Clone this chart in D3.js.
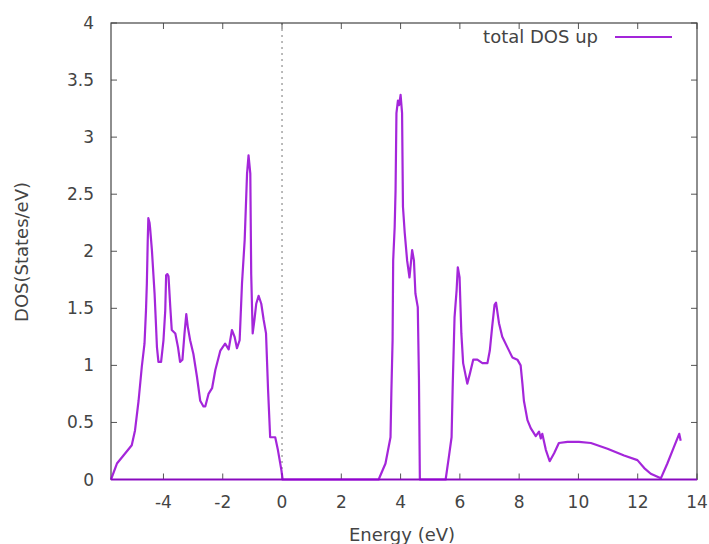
<!DOCTYPE html>
<html><head><meta charset="utf-8">
<script src="https://cdn.jsdelivr.net/npm/d3@7"></script>
<style>body{margin:0;background:#fff}svg{display:block}</style>
</head><body>
<svg id="c" width="709" height="544"></svg>
<script>
const energy = [-5.77,-5.57,-5.35,-5.07,-4.96,-4.84,-4.73,-4.64,-4.59,-4.56,-4.53,-4.51,-4.47,-4.45,-4.39,-4.30,-4.26,-4.22,-4.17,-4.08,-4.00,-3.94,-3.91,-3.87,-3.83,-3.77,-3.72,-3.60,-3.51,-3.44,-3.36,-3.29,-3.23,-3.18,-3.10,-2.99,-2.87,-2.76,-2.65,-2.59,-2.48,-2.36,-2.25,-2.08,-1.92,-1.80,-1.69,-1.60,-1.52,-1.43,-1.35,-1.26,-1.18,-1.13,-1.07,-1.04,-0.99,-0.93,-0.87,-0.79,-0.70,-0.62,-0.54,-0.47,-0.40,-0.23,-0.14,-0.02,0.02,3.26,3.49,3.66,3.69,3.73,3.75,3.80,3.83,3.86,3.91,3.95,4.00,4.05,4.08,4.14,4.22,4.30,4.39,4.45,4.50,4.58,4.62,4.65,5.52,5.63,5.72,5.76,5.82,5.89,5.93,5.99,6.05,6.11,6.25,6.34,6.45,6.59,6.76,6.93,7.01,7.09,7.17,7.22,7.32,7.43,7.60,7.77,7.94,8.05,8.11,8.16,8.28,8.39,8.56,8.67,8.73,8.78,8.90,9.03,9.18,9.34,9.63,10.02,10.42,10.98,11.54,11.99,12.22,12.44,12.78,13.00,13.23,13.40,13.45];
const dosUp = [0,0.14,0.21,0.30,0.43,0.69,0.99,1.19,1.48,1.72,2.10,2.29,2.25,2.20,2.01,1.63,1.40,1.16,1.03,1.03,1.22,1.48,1.79,1.80,1.78,1.51,1.31,1.28,1.16,1.03,1.05,1.28,1.45,1.34,1.22,1.10,0.90,0.69,0.64,0.64,0.75,0.80,0.96,1.13,1.19,1.14,1.31,1.25,1.15,1.22,1.72,2.10,2.68,2.84,2.68,1.80,1.28,1.40,1.54,1.61,1.54,1.40,1.28,0.78,0.37,0.37,0.26,0.08,0,0,0.14,0.37,0.78,1.22,1.92,2.21,2.53,3.21,3.32,3.28,3.37,3.21,2.39,2.16,1.92,1.77,2.01,1.92,1.63,1.51,0.87,0,0,0.20,0.37,0.84,1.42,1.66,1.86,1.77,1.28,1.02,0.84,0.93,1.05,1.05,1.02,1.02,1.13,1.34,1.53,1.55,1.37,1.25,1.16,1.07,1.05,1.00,0.84,0.69,0.52,0.45,0.38,0.42,0.36,0.40,0.26,0.16,0.23,0.32,0.33,0.33,0.32,0.27,0.21,0.17,0.10,0.05,0.01,0.14,0.29,0.40,0.34];
const xTicks = [-4,-2,0,2,4,6,8,10,12,14];
const yTicks = [0,0.5,1,1.5,2,2.5,3,3.5,4];
const xTickLabels = ["-4","-2","0","2","4","6","8","10","12","14"];
const yTickLabels = ["0","0.5","1","1.5","2","2.5","3","3.5","4"];
const seriesName = "total DOS up";
const xLabel = "Energy (eV)";
const yLabel = "DOS(States/eV)";

const L = 111, R = 697, T = 23, B = 479.5;
const font = "DejaVu Sans, sans-serif";
const txt = "#444";
const purple = "#9400d3";
const svg = d3.select("#c");
const x = d3.scaleLinear().domain([-5.77, 14]).range([L, R]);
const y = d3.scaleLinear().domain([0, 4]).range([B, T]);

// zero line
svg.append("line").attr("x1", x(0)).attr("x2", x(0)).attr("y1", T).attr("y2", B)
  .attr("stroke", "#777").attr("stroke-width", 1).attr("stroke-dasharray", "2,4");

// ticks (inward, all sides)
const tl = 6;
const g = svg.append("g").attr("stroke", "#555").attr("stroke-width", 1);
xTicks.forEach(v => {
  g.append("line").attr("x1", x(v)).attr("x2", x(v)).attr("y1", B).attr("y2", B - tl);
  g.append("line").attr("x1", x(v)).attr("x2", x(v)).attr("y1", T).attr("y2", T + tl);
});
yTicks.forEach(v => {
  g.append("line").attr("x1", L).attr("x2", L + tl).attr("y1", y(v)).attr("y2", y(v));
  g.append("line").attr("x1", R).attr("x2", R - tl).attr("y1", y(v)).attr("y2", y(v));
});
// border
svg.append("rect").attr("x", L).attr("y", T).attr("width", R - L).attr("height", B - T)
  .attr("fill", "none").attr("stroke", "#444").attr("stroke-width", 1.2);

// tick labels
xTicks.forEach((v, i) => {
  svg.append("text").attr("x", x(v)).attr("y", 508).attr("text-anchor", "middle")
    .attr("font-family", font).attr("font-size", 17).attr("fill", txt).text(xTickLabels[i]);
});
yTicks.forEach((v, i) => {
  svg.append("text").attr("x", 94).attr("y", y(v) + 6).attr("text-anchor", "end")
    .attr("font-family", font).attr("font-size", 17).attr("fill", txt).text(yTickLabels[i]);
});

// axis labels
svg.append("text").attr("x", 402).attr("y", 541).attr("text-anchor", "middle")
  .attr("font-family", font).attr("font-size", 18).attr("fill", txt).text(xLabel);
svg.append("text").attr("transform", "translate(28,252) rotate(-90)").attr("text-anchor", "middle")
  .attr("font-family", font).attr("font-size", 18).attr("fill", txt).text(yLabel);

// zero baseline of the series across the plot
svg.append("line").attr("x1", x(-5.77)).attr("x2", x(14)).attr("y1", y(0)).attr("y2", y(0))
  .attr("stroke", purple).attr("stroke-width", 2).attr("opacity", 0.85);

// curve
const data = energy.map((e, i) => [e, dosUp[i]]);
svg.append("path").datum(data)
  .attr("d", d3.line().x(d => x(d[0])).y(d => y(d[1])))
  .attr("fill", "none").attr("stroke", purple).attr("stroke-width", 2.2)
  .attr("stroke-linejoin", "round").attr("opacity", 0.85);

// legend
svg.append("text").attr("x", 598).attr("y", 43).attr("text-anchor", "end")
  .attr("font-family", font).attr("font-size", 18).attr("fill", txt).text(seriesName);
svg.append("line").attr("x1", 615).attr("x2", 672).attr("y1", 37).attr("y2", 37)
  .attr("stroke", purple).attr("stroke-width", 2).attr("opacity", 0.85);
</script>
</body></html>
